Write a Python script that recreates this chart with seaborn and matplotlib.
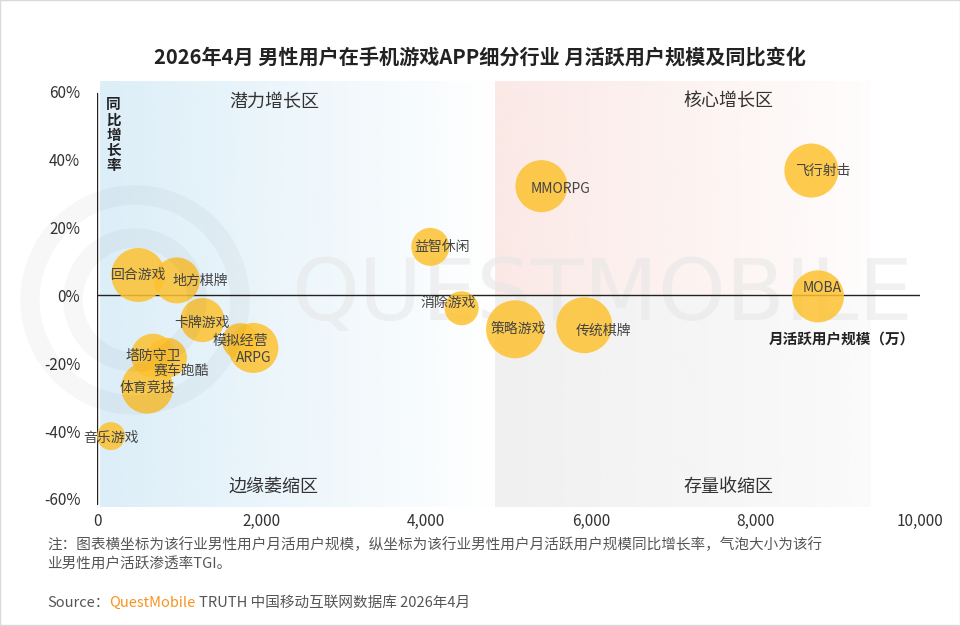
import numpy as np
import pandas as pd
import seaborn as sns
import matplotlib.pyplot as plt
from matplotlib.patches import Circle, Rectangle

# data
segments = ["回合游戏", "地方棋牌", "卡牌游戏", "模拟经营", "ARPG", "塔防守卫", "赛车跑酷", "体育竞技",
            "音乐游戏", "益智休闲", "消除游戏", "策略游戏", "传统棋牌", "MMORPG", "飞行射击", "MOBA"]
mau = [500, 970, 1280, 1740, 1900, 680, 850, 610, 170, 4050, 4430, 5080, 5920, 5400, 8680, 8760]
yoy = [0.060, 0.044, -0.073, -0.135, -0.155, -0.178, -0.184, -0.272, -0.415, 0.143, -0.038, -0.100,
       -0.088, 0.322, 0.368, -0.003]
tgi = [135, 115, 110, 90, 125, 110, 100, 130, 70, 95, 85, 145, 140, 130, 135, 130]
x_ticks = [0, 2000, 4000, 6000, 8000, 10000]
y_ticks = [-0.6, -0.4, -0.2, 0.0, 0.2, 0.4, 0.6]
quadrants = ["潜力增长区", "核心增长区", "边缘萎缩区", "存量收缩区"]

# label offsets in pixels (dx right, dy up)
label_offsets = {"地方棋牌": (23, 0), "卡牌游戏": (0, -3), "ARPG": (0, -10), "赛车跑酷": (14, -13),
                 "益智休闲": (12, 0), "消除游戏": (-13, 5), "策略游戏": (3, 0), "传统棋牌": (19, -6),
                 "MMORPG": (19, -3), "飞行射击": (11, 0), "MOBA": (4, 8), "音乐游戏": (0, -2)}

sns.set_theme(style="white")
plt.rcParams['font.family'] = ['Noto Sans CJK SC', 'DejaVu Sans']

df = pd.DataFrame({"segment": segments, "mau": mau, "yoy": yoy, "tgi": tgi})
# marker area in points^2 from radius in px (tgi / 5)
df["area"] = (2 * df["tgi"] / 5 * 0.72) ** 2

fig = plt.figure(figsize=(9.6, 6.26), dpi=100)
ax = fig.add_axes([97 / 960, 119 / 626, 823 / 960, 426 / 626])
ylo, yhi = -0.624, 0.632

# quadrant backgrounds
def grad(rgb, a0, a1, n=256):
    arr = np.zeros((2, n, 4))
    arr[..., :3] = np.array(rgb) / 255
    arr[..., 3] = np.linspace(a0, a1, n)
    return arr

ax.imshow(grad((220, 238, 248), 1, 0), extent=[36, 4836, ylo, yhi], aspect="auto", zorder=0)
ax.imshow(grad((251, 233, 230), 1, 0.1), extent=[4836, 9400, 0, yhi], aspect="auto", zorder=0)
ax.imshow(grad((240, 240, 240), 1, 0.3), extent=[4836, 9400, ylo, 0], aspect="auto", zorder=0)

# watermark
ax.text(0.614, 0.493, "QUESTMOBILE", transform=ax.transAxes, fontsize=62, color="#e6e6e6",
        alpha=0.55, ha="center", va="center", zorder=1, family="DejaVu Sans")
for r in (1.05, 0.62):
    fig.add_artist(Circle((1.35, 3.26), r, transform=fig.dpi_scale_trans, fill=False,
                          lw=14, edgecolor="#000000", alpha=0.03, zorder=1))

sns.scatterplot(data=df, x="mau", y="yoy", size="area", sizes=(df["area"].min(), df["area"].max()),
                size_norm=(df["area"].min(), df["area"].max()), color="#FDC230", alpha=0.85,
                edgecolor="none", legend=False, ax=ax, zorder=3)

for name, xv, yv in zip(segments, mau, yoy):
    dx, dy = label_offsets.get(name, (0, 0))
    ax.annotate(name, (xv, yv), xytext=(dx, dy), textcoords="offset pixels", ha="center",
                va="center", fontsize=10, color="#444444", zorder=4)

ax.axhline(0, color="#222222", lw=1, zorder=2)
ax.plot([0, 0], [-0.615, 0.598], color="#222222", lw=1, zorder=2)

ax.set_xlim(0, 10000)
ax.set_ylim(ylo, yhi)
for s in ax.spines.values():
    s.set_visible(False)
ax.set_xticks(x_ticks)
ax.set_xticklabels([f"{v:,}" for v in x_ticks])
ax.set_yticks(y_ticks)
ax.set_yticklabels([f"{v:.0%}" for v in y_ticks])
ax.tick_params(axis="both", length=0, labelsize=11, colors="#333333")
ax.tick_params(axis="y", pad=12)
ax.tick_params(axis="x", pad=4)
ax.set_xlabel("")
ax.set_ylabel("")

# quadrant labels
qpos = [(2150, 0.57), (7670, 0.57), (2150, -0.565), (7670, -0.565)]
for q, (qx, qy) in zip(quadrants, qpos):
    ax.text(qx, qy, q, fontsize=13, color="#333333", ha="center", va="center", zorder=4)

ax.text(0.02, 0.965, "\n".join("同比增长率"), transform=ax.transAxes, fontsize=10.5,
        fontweight="bold", color="#222222", ha="center", va="top", linespacing=0.95, zorder=4)
ax.text(9050, -0.13, "月活跃用户规模（万）", fontsize=10.5, fontweight="bold", color="#222222",
        ha="center", va="center", zorder=4)

fig.text(0.5, 1 - 57 / 626, "2026年4月 男性用户在手机游戏APP细分行业 月活跃用户规模及同比变化",
         ha="center", va="center", fontsize=14.5, fontweight="bold", color="#222222")
fig.text(47 / 960, 1 - 545 / 626,
         "注：图表横坐标为该行业男性用户月活用户规模，纵坐标为该行业男性用户月活跃用户规模同比增长率，气泡大小为该行",
         ha="left", va="center", fontsize=10.5, color="#555555")
fig.text(47 / 960, 1 - 564 / 626, "业男性用户活跃渗透率TGI。",
         ha="left", va="center", fontsize=10.5, color="#555555")
t1 = fig.text(47 / 960, 1 - 603 / 626, "Source：", ha="left", va="center", fontsize=10.5, color="#555555")
fig.canvas.draw()
bb = t1.get_window_extent()
t2 = fig.text(bb.x1 / 960, 1 - 603 / 626, "QuestMobile", ha="left", va="center", fontsize=10.5,
              color="#F7941D")
fig.canvas.draw()
bb = t2.get_window_extent()
fig.text(bb.x1 / 960 + 0.003, 1 - 603 / 626, "TRUTH 中国移动互联网数据库 2026年4月", ha="left",
         va="center", fontsize=10.5, color="#555555")

fig.add_artist(Rectangle((0.0005, 0.0008), 0.999, 0.9985, transform=fig.transFigure, fill=False,
                         edgecolor="#d9d9d9", lw=1))

fig.savefig("out.png", dpi=100)
